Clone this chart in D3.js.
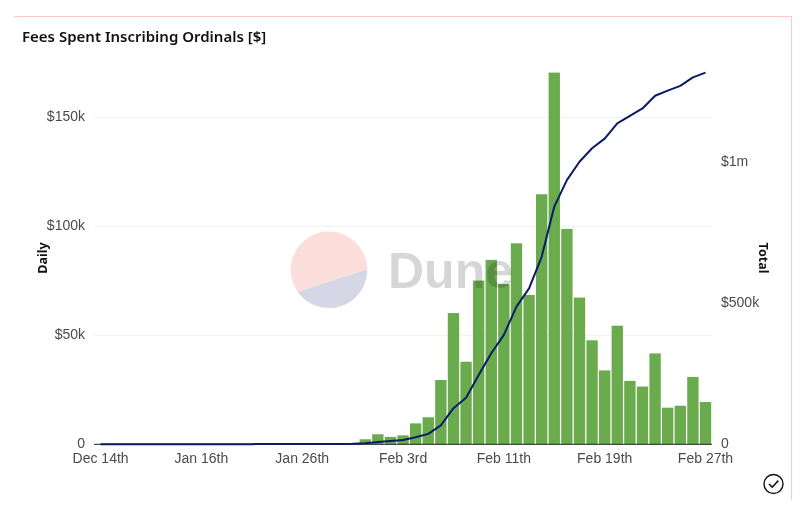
<!DOCTYPE html>
<html>
<head>
<meta charset="utf-8">
<script src="https://cdn.jsdelivr.net/npm/d3@7"></script>
<style>
  html, body { margin: 0; padding: 0; background: #fff; }
  svg { display: block; font-family: "Noto Sans", sans-serif; }
  .tick text { fill: #4a4a4a; font-size: 14px; }
  .axis-title { fill: #111; font-size: 12.5px; font-weight: 700; }
</style>
</head>
<body>
<svg id="chart" width="801" height="506"></svg>
<script>
// dates on the band axis, only every 8th one is labelled
const days = [
  "Dec 14th", "Dec 20th", "Dec 24th", "Dec 28th", "Jan 2nd", "Jan 6th", "Jan 10th", "Jan 13th",
  "Jan 16th", "Jan 17th", "Jan 18th", "Jan 19th", "Jan 20th", "Jan 22nd", "Jan 23rd", "Jan 25th",
  "Jan 26th", "Jan 27th", "Jan 28th", "Jan 29th", "Jan 30th", "Jan 31st", "Feb 1st", "Feb 2nd",
  "Feb 3rd", "Feb 4th", "Feb 5th", "Feb 6th", "Feb 7th", "Feb 8th", "Feb 9th", "Feb 10th",
  "Feb 11th", "Feb 12th", "Feb 13th", "Feb 14th", "Feb 15th", "Feb 16th", "Feb 17th", "Feb 18th",
  "Feb 19th", "Feb 20th", "Feb 21st", "Feb 22nd", "Feb 23rd", "Feb 24th", "Feb 25th", "Feb 26th",
  "Feb 27th"
];

// daily fees, thousands of dollars
const daily = [
  0, 0, 0, 0, 0, 0, 0, 0,
  0, 0, 0, 0, 0, 0, 0, 0,
  0, 0, 0, 0, 0.3, 2.3, 4.6, 3.4,
  4.1, 9.6, 12.4, 29.5, 60.2, 37.9, 75.1, 84.6,
  73.5, 92.2, 68.5, 114.7, 170.5, 98.8, 67.3, 47.7,
  33.9, 54.4, 29.1, 26.5, 41.7, 16.8, 17.7, 30.9,
  19.4
];

// running total, thousands of dollars
const total = [
  0, 0, 0, 0, 0, 0, 0, 0,
  0.3, 0.4, 0.5, 0.5, 0.6, 0.8, 1, 1,
  1, 1, 1, 1, 2, 4, 8, 12,
  15, 25, 37, 67, 128, 165, 246, 323,
  388, 488, 553, 665, 843, 937, 1002, 1050,
  1084, 1138, 1165, 1191, 1236, 1254, 1271, 1301,
  1318
];

const dailyTicks = [0, 50, 100, 150];
const totalTicks = [0, 500, 1000];
const labelledDays = ["Dec 14th", "Jan 16th", "Jan 26th", "Feb 3rd", "Feb 11th", "Feb 19th", "Feb 27th"];

const svg = d3.select("#chart");

const x = d3.scaleBand().domain(days).range([94.3, 711.8]).paddingInner(0.1).paddingOuter(0.05);
const yDaily = d3.scaleLinear().domain([0, 150]).range([444.3, 117.3]);
const yTotal = d3.scaleLinear().domain([0, 1000]).range([444.3, 162.3]);

// frame, pink on top and right
svg.append("path")
  .attr("d", "M14,16.5H791.5V500")
  .attr("fill", "none")
  .attr("stroke", "#fbc9c6")
  .attr("stroke-width", 1);

svg.append("text")
  .attr("x", 22).attr("y", 42)
  .attr("fill", "#111")
  .style("font-size", "15px")
  .style("font-weight", 600)
  .text("Fees Spent Inscribing Ordinals [$]");

// gridlines
svg.append("g").selectAll("line")
  .data(dailyTicks.slice(1))
  .join("line")
  .attr("x1", 94).attr("x2", 712)
  .attr("y1", d => yDaily(d)).attr("y2", d => yDaily(d))
  .attr("stroke", "#f1f1f1");

// bars
svg.append("g").selectAll("rect")
  .data(days)
  .join("rect")
  .attr("x", d => x(d))
  .attr("width", x.bandwidth())
  .attr("y", (d, i) => yDaily(daily[i]))
  .attr("height", (d, i) => yDaily(0) - yDaily(daily[i]))
  .attr("fill", "#6aab4d");

// axes
const xAxis = d3.axisBottom(x).tickValues(labelledDays).tickSize(0).tickPadding(9);
svg.append("g").attr("transform", "translate(0,444.3)").call(xAxis)
  .call(g => g.select(".domain").attr("stroke", "#222").attr("d", "M94,0H712"));

const leftAxis = d3.axisLeft(yDaily).tickValues(dailyTicks).tickSize(0).tickPadding(9)
  .tickFormat(d => d === 0 ? "0" : "$" + d + "k");
svg.append("g").attr("transform", "translate(94,-1.5)").call(leftAxis)
  .call(g => g.select(".domain").remove());

const rightAxis = d3.axisRight(yTotal).tickValues(totalTicks).tickSize(0).tickPadding(9)
  .tickFormat(d => d === 0 ? "0" : d === 1000 ? "$1m" : "$" + d + "k");
svg.append("g").attr("transform", "translate(712,-1.5)").call(rightAxis)
  .call(g => g.select(".domain").remove());

svg.append("text").attr("class", "axis-title")
  .attr("transform", "translate(47,258) rotate(-90)")
  .attr("text-anchor", "middle").text("Daily");
svg.append("text").attr("class", "axis-title")
  .attr("transform", "translate(759,258) rotate(90)")
  .attr("text-anchor", "middle").text("Total");

// watermark sits over the bars, two halves of one disc
const mark = svg.append("g").style("mix-blend-mode", "multiply");
mark.append("path")
  .attr("d", "M297.6,291.7 L367.3,269.3 A38.3,38.3 0 1 0 297.6,291.7 Z")
  .attr("fill", "#fcdfda");
mark.append("path")
  .attr("d", "M297.6,291.7 L367.3,269.3 A38.3,38.3 0 0 1 297.6,291.7 Z")
  .attr("fill", "#d5d7e6");
svg.append("text")
  .attr("x", 388).attr("y", 288)
  .attr("fill", "#000").attr("fill-opacity", 0.16)
  .style("font-family", "'Liberation Sans', sans-serif")
  .style("font-size", "50px").style("font-weight", 700)
  .style("mix-blend-mode", "multiply")
  .text("Dune");

// running total line
const line = d3.line()
  .x((d, i) => x(days[i]) + x.bandwidth() / 2)
  .y(d => yTotal(d));
svg.append("path")
  .datum(total)
  .attr("d", line)
  .attr("fill", "none")
  .attr("stroke", "#0b1a66")
  .attr("stroke-width", 2)
  .attr("stroke-linejoin", "round");

// check badge
const badge = svg.append("g").attr("transform", "translate(773.5,484)");
badge.append("circle").attr("r", 9.5).attr("fill", "none").attr("stroke", "#111").attr("stroke-width", 1.4);
badge.append("path").attr("d", "M-4.5,0 L-1.3,3.2 L4.8,-3.4").attr("fill", "none").attr("stroke", "#111").attr("stroke-width", 1.6);
</script>
</body>
</html>
